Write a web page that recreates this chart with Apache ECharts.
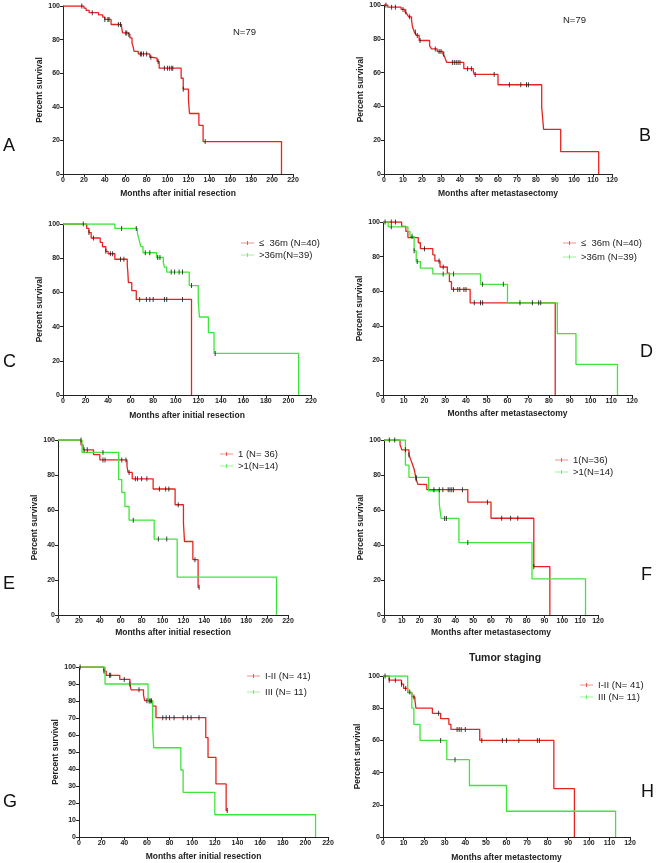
<!DOCTYPE html>
<html><head><meta charset="utf-8">
<script src="https://cdn.jsdelivr.net/npm/echarts@6/dist/echarts.min.js"></script>
<style>html,body{margin:0;padding:0;background:#fff}#c{width:658px;height:863px}</style>
</head><body><div id="c"></div>
<script>
// ---------- DATA ----------
// Panel A – all patients, months after initial resection
const aTime = [0,20,22,25,34,38,40,46,56,57,62,64,66,67,68,72,83,85,90,92,113,115,120,121,130,134,209];
const aSurv = [100,98.7,97.4,96,94.7,93.4,92,89,87.5,84,83,81,78,76,73,71.5,69.5,69,67,63,57,50.5,44,36,29,19.3,0];
const aCens = [18,28,40,43,44,53,55,60,61,63,74,75,77,80,84,91,97,100,102,104,105,115,136];

// Panel B – all patients, months after metastasectomy
const bTime = [0,2,9,11,12,13,14.5,15,16,17,18.5,24,25,28,31,32,33,42,47,47.5,60,83,84,93,113];
const bSurv = [100,98.7,97.4,96,94.8,93,91,87,84,82,79,75.8,74,72.5,71,69,66,62.3,60.8,58.9,52.8,39.6,26.4,13.2,0];
const bCens = [1,4,6,10,11.5,13.5,16.5,17.5,19,27,29,30,31.5,36,37,38,39,40,44,46,48,58,66,72,75,76];

// Panel C – DFI groups, initial resection
const cRedTime = [0,21,23,25,33,35,38,40,46,57,57.5,58,61,65,114];
const cRedSurv = [100,97.5,95,91.8,89.3,86.7,84,82.6,79.4,75.9,72,65.7,61,55.9,0];
const cRedCens = [23,27,38,42,44,51,54,68,74,77,80,90,92,106];
const cGrnTime = [0,46,66,67,68,69,71,83,89,90,92,112,120,121,129,134,209];
const cGrnSurv = [100,97.4,94.8,92,89.5,86.8,83.2,80.4,77.6,74.8,71.9,64,55,45.6,36.5,24.3,0];
const cGrnCens = [18,52,65,73,77,84,86,96,99,103,106,114,135];

// Panel D – DFI groups, metastasectomy
const dRedTime = [0,9,11,12,17,18,24,25,27.5,31,32,33,42,83];
const dRedSurv = [100,97.5,94.6,91,88,84.6,81,77.5,74,70.5,65.5,61,53.3,0];
const dRedCens = [1,4,6,20,27,29,34,36,37,39,40,44,47,48];
const dGrnTime = [0,2.5,12,13,15,16,18,24,47,60,84,93,113];
const dGrnSurv = [100,97.2,94.5,91.7,83.4,77.1,73.3,70,64,53.3,35.5,17.7,0];
const dGrnCens = [4,14,15,16.5,29,34,48,58,66,72,75,76];

// Panel E – number of metastases, initial resection
const eRedTime = [0,22,24,34,40,66,67,71,91,112,120,121,129,134,135];
const eRedSurv = [100,97.2,94.4,91.6,88.6,85,81.5,77.8,72,63,52.5,42,31.6,15.8,15.8];
const eRedCens = [25,28,43,45,61,65,68,74,76,80,85,97,103,106,115,131,135];
const eGrnTime = [0,23,58,61,64,68,92,114,209];
const eGrnSurv = [100,92.9,77.4,70,62,54.2,43.4,21.7,0];
const eGrnCens = [22,43,72,96,104];

// Panel F – number of metastases, metastasectomy
const fRedTime = [0,9,10,14,15,16,17,18,19,24,47,60,84,93];
const fRedSurv = [100,97.2,94.4,91.6,88.8,86,83,77.8,74.6,71.6,64.5,55.3,27.6,0];
const fRedCens = [3,6,12,14,18,28,31,33,36,37,38,39,44,58,66,71,75,84];
const fGrnTime = [0,12,14,25,31,32,42,83,113];
const fGrnSurv = [100,85.7,78.6,71,63.5,55.2,41.4,20.7,0];
const fGrnCens = [18,34,35,47];

// Panel G – tumor staging, initial resection
const gRedTime = [0,22,24,36,45,46,57,58,65,68,112,114,121,130,131];
const gRedSurv = [100,97.6,95.1,92.7,90,86.6,83.5,80.2,77,70.2,58.5,46.8,31.2,15.6,15.6];
const gRedCens = [1,22,27,28,40,45,53,60,64,74,77,80,84,92,96,99,106,131];
const gGrnTime = [0,23,61,65,66,90,92,120,209];
const gGrnSurv = [100,90,80,66,52.5,39.4,26.3,13.1,0];
const gGrnCens = [62,63];

// Panel H – tumor staging, metastasectomy
const hRedTime = [0,3,9,10,12,14,15.5,16,24,28,32,33,47,83,93];
const hRedSurv = [100,97.4,94.9,92.3,89.7,87,85,80,76.8,73.5,70,66.8,60,30,0];
const hRedCens = [1,3,6,9,11,15,27,36,37,38,40,48,58,60,66,75,76];
const hGrnTime = [0,12,14,15,18,31,42,60,113];
const hGrnSurv = [100,90,80,70,60,48,32,16,0];
const hGrnCens = [13,28,35];

const legC = ['≤  36m (N=40)', '>36m(N=39)'];
const legD = ['≤  36m (N=40) ', '>36m (N=39)'];
const legE = ['1 (N= 36)', '>1(N=14)'];
const legF = ['1(N=36)', '>1(N=14) '];
const legG = ['I-II (N= 41)', 'III (N= 11)'];
const legH = ['I-II (N= 41) ', 'III (N= 11) '];

// ---------- LAYOUT / STYLE ----------
const RED = '#e8231f', GRN = '#3fe53a';
const FONT = 'Liberation Sans, Arial, sans-serif';
const XRES = 'Months after initial resection', XMET = 'Months after metastasectomy', XMET2 = 'Months after metastectomy';

const panels = [
  {grid:{left:63,top:6,width:230,height:168}, xMax:220, xInt:20, yInt:20, xName:XRES, xGap:15, yGap:19,
   curves:[[aTime,aSurv,aCens,RED,'A all']]},
  {grid:{left:384,top:5,width:228,height:169}, xMax:120, xInt:10, yInt:20, xName:XMET, xGap:15, yGap:18,
   curves:[[bTime,bSurv,bCens,RED,'B all']]},
  {grid:{left:63,top:224,width:248,height:171}, xMax:220, xInt:20, yInt:20, xName:XRES, xGap:16, yGap:19,
   curves:[[cRedTime,cRedSurv,cRedCens,RED,legC[0]],[cGrnTime,cGrnSurv,cGrnCens,GRN,legC[1]]],
   legend:{left:241,top:238,names:legC}},
  {grid:{left:383,top:222,width:249,height:173}, xMax:120, xInt:10, yInt:20, xName:XMET, xGap:14, yGap:17,
   curves:[[dRedTime,dRedSurv,dRedCens,RED,legD[0]],[dGrnTime,dGrnSurv,dGrnCens,GRN,legD[1]]],
   legend:{left:563,top:238,names:legD,gap:4}},
  {grid:{left:58,top:440,width:230,height:175}, xMax:220, xInt:20, yInt:20, xName:XRES, xGap:13, yGap:18,
   curves:[[eRedTime,eRedSurv,eRedCens,RED,legE[0]],[eGrnTime,eGrnSurv,eGrnCens,GRN,legE[1]]],
   legend:{left:220,top:449,names:legE}},
  {grid:{left:384,top:440,width:214,height:175}, xMax:120, xInt:10, yInt:20, xName:XMET, xGap:13, yGap:17,
   curves:[[fRedTime,fRedSurv,fRedCens,RED,legF[0]],[fGrnTime,fGrnSurv,fGrnCens,GRN,legF[1]]],
   legend:{left:555,top:455,names:legF}},
  {grid:{left:79,top:667,width:249,height:170}, xMax:220, xInt:20, yInt:10, xName:XRES, xGap:15, yGap:19,
   curves:[[gRedTime,gRedSurv,gRedCens,RED,legG[0]],[gGrnTime,gGrnSurv,gGrnCens,GRN,legG[1]]],
   legend:{left:247,top:671,names:legG,gap:6}},
  {grid:{left:383,top:676,width:247,height:161}, xMax:120, xInt:10, yInt:20, xName:XMET2, xGap:16, yGap:21,
   curves:[[hRedTime,hRedSurv,hRedCens,RED,legH[0]],[hGrnTime,hGrnSurv,hGrnCens,GRN,legH[1]]],
   legend:{left:580,top:680,names:legH}}
];

function survAt(times, surv, t){
  let v = surv[0];
  for (let i=0;i<times.length;i++){ if (times[i] <= t) v = surv[i]; }
  return v;
}

const grid=[], xAxis=[], yAxis=[], series=[], legend=[];
panels.forEach((p,i)=>{
  grid.push(Object.assign({containLabel:false}, p.grid));
  xAxis.push({gridIndex:i, type:'value', min:0, max:p.xMax, interval:p.xInt,
    name:p.xName, nameLocation:'middle', nameGap:p.xGap,
    nameTextStyle:{fontFamily:FONT,fontWeight:'bold',fontSize:8.5,color:'#222'},
    axisLine:{show:true,onZero:false,lineStyle:{color:'#222',width:1}},
    axisTick:{show:true,length:3,lineStyle:{color:'#222'}},
    axisLabel:{fontFamily:FONT,fontWeight:'bold',fontSize:7,color:'#222',margin:3},
    splitLine:{show:false}});
  yAxis.push({gridIndex:i, type:'value', min:0, max:100, interval:p.yInt,
    name:'Percent survival', nameLocation:'middle', nameGap:p.yGap, nameRotate:90,
    nameTextStyle:{fontFamily:FONT,fontWeight:'bold',fontSize:8.5,color:'#222'},
    axisLine:{show:true,lineStyle:{color:'#222',width:1}},
    axisTick:{show:true,length:3,lineStyle:{color:'#222'}},
    axisLabel:{fontFamily:FONT,fontWeight:'bold',fontSize:7,color:'#222',margin:3},
    splitLine:{show:false}});
  p.curves.forEach(([t,s,c,col,name])=>{
    series.push({type:'line', name:name, xAxisIndex:i, yAxisIndex:i, step:'end',
      data:t.map((v,k)=>[v,s[k]]), showSymbol:false, symbol:'none',
      lineStyle:{color:col,width:1.3}, itemStyle:{color:col}, z:2, silent:true});
    series.push({type:'scatter', name:name+' censored', xAxisIndex:i, yAxisIndex:i,
      data:c.map(v=>[v, survAt(t,s,v)]), symbol:'rect', symbolSize:[1,5],
      itemStyle:{color:'#111'}, z:3, silent:true});
  });
  if (p.legend){
    legend.push({left:p.legend.left, top:p.legend.top, padding:0, orient:'vertical', data:p.legend.names,
      itemWidth:13, itemHeight:6, itemGap:p.legend.gap||2, selectedMode:false,
      icon:'path://M0,4.3h26v1.4h-26zM12.3,1h1.4v8h-1.4z',
      textStyle:{fontFamily:FONT,fontSize:9.5,color:'#222'}});
  }
});

const titles = [
  {text:'A', left:3, top:137}, {text:'B', left:639, top:127},
  {text:'C', left:3, top:353}, {text:'D', left:640, top:343},
  {text:'E', left:3, top:575}, {text:'F', left:641, top:566},
  {text:'G', left:3, top:793}, {text:'H', left:641, top:783}
].map(o=>({text:o.text,left:o.left,top:o.top,padding:0,
  textStyle:{fontFamily:FONT,fontWeight:'normal',fontSize:18,color:'#111'}}));
titles.push({text:'N=79',left:233,top:27,padding:0,textStyle:{fontFamily:FONT,fontWeight:'normal',fontSize:9.5,color:'#222'}});
titles.push({text:'N=79',left:563,top:15,padding:0,textStyle:{fontFamily:FONT,fontWeight:'normal',fontSize:9.5,color:'#222'}});
titles.push({text:'Tumor staging',left:469,top:653,padding:0,textStyle:{fontFamily:FONT,fontWeight:'bold',fontSize:10.5,color:'#222'}});

const chart = echarts.init(document.getElementById('c'), null, {renderer:'canvas'});
chart.setOption({animation:false, backgroundColor:'#fff', title:titles, grid, xAxis, yAxis, series, legend});
</script></body></html>
